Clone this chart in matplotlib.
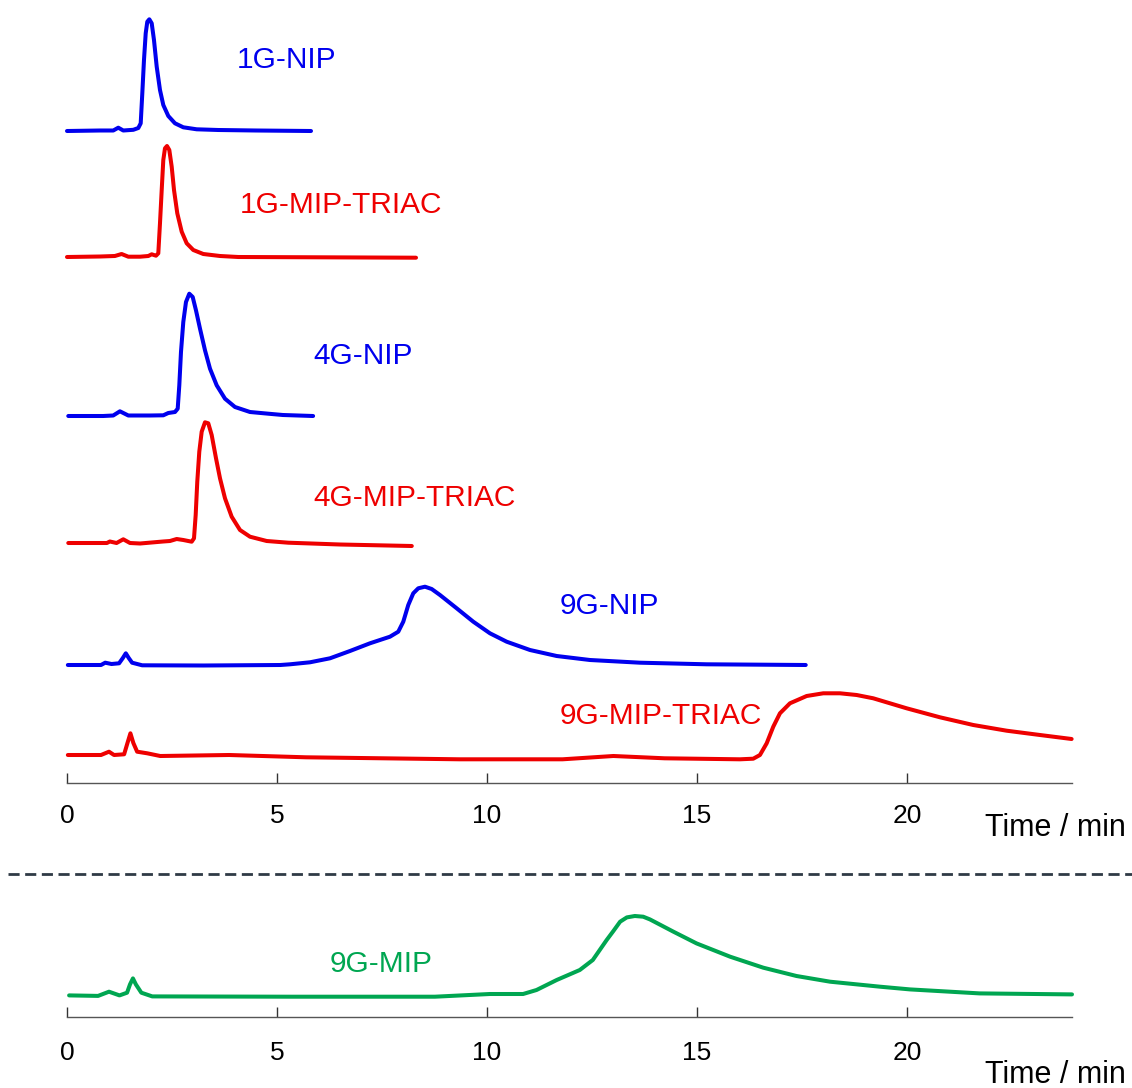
import matplotlib
matplotlib.use("Agg")
import matplotlib.pyplot as plt
import numpy as np

plt.rcParams['font.family'] = ['Liberation Sans', 'DejaVu Sans']

# retention time (min) and detector signal (arb. units)
t_1g_nip = [0, 0.786, 1.102, 1.221, 1.340, 1.579, 1.698, 1.755, 1.793, 1.833, 1.874,
            1.912, 1.960, 2.017, 2.071, 2.136, 2.214, 2.293, 2.412, 2.571, 2.769,
            3.088, 3.602, 4.5, 5.81]
s_1g_nip = [0, 0.5, 0.5, 3.3, 0.5, 1.2, 3, 7.7, 37.7, 71, 97.7,
            109.3, 111.7, 107.7, 91, 64.3, 41, 26, 15, 7.7, 3.7,
            1.7, 1, 0.5, 0]

t_1g_mip = [0, 0.79, 1.14, 1.30, 1.46, 1.738, 1.936, 2.017, 2.119, 2.174, 2.214, 2.255,
            2.293, 2.333, 2.381, 2.436, 2.493, 2.548, 2.626, 2.731, 2.850, 3.007, 3.245,
            3.643, 4.079, 6.0, 8.31]
s_1g_mip = [0, 0.5, 1, 3, 0.3, 0.3, 1, 2.7, 1.3, 3.7, 33.7, 67,
            97, 108.7, 111, 107, 90.3, 67, 43.7, 25.3, 13.7, 7, 3,
            1, 0, -0.3, -0.7]

t_4g_nip = [0.03, 0.86, 1.10, 1.26, 1.46, 1.976, 2.293, 2.412, 2.571, 2.636, 2.674, 2.714,
            2.769, 2.833, 2.912, 2.993, 3.071, 3.167, 3.286, 3.405, 3.564, 3.762, 4.0,
            4.357, 4.793, 5.14, 5.86]
s_4g_nip = [0, 0, 0.5, 4.7, 0.5, 0.5, 0.7, 3, 4, 7.3, 30.7, 64,
            94, 114, 122.3, 119, 105.7, 87.3, 65.7, 47.3, 30.7, 17.3, 9,
            4, 2.3, 1, 0]

t_4g_mip = [0.03, 0.95, 1.02, 1.18, 1.34, 1.50, 1.74, 2.29, 2.452, 2.612, 2.769, 2.969,
            3.024, 3.064, 3.102, 3.150, 3.207, 3.286, 3.364, 3.445, 3.548, 3.643, 3.762,
            3.921, 4.119, 4.357, 4.755, 5.269, 6.5, 8.21]
s_4g_mip = [0, 0, 1.5, 0, 3.7, 0, -0.5, 1.5, 2, 4, 3, 1.3,
            4.7, 28, 61.3, 91.3, 111.3, 120.7, 119.7, 108, 84.7, 64.7, 44.7,
            26.3, 13, 6.3, 2, 0.3, -1.5, -3]

t_9g_nip = [0.02, 0.81, 0.91, 1.06, 1.24, 1.33, 1.40, 1.47, 1.55, 1.79, 3.25, 5.08,
            5.310, 5.786, 6.262, 6.738, 7.214, 7.690, 7.888, 8.007, 8.126, 8.245, 8.364,
            8.524, 8.683, 8.881, 9.279, 9.674, 10.071, 10.469, 11.024, 11.660, 12.452,
            13.643, 15.231, 17.59]
s_9g_nip = [0, 0, 2.3, 1, 1.7, 7, 11.7, 7, 2.3, -0.3, -0.5, 0,
            0.7, 2.7, 6.7, 14, 21.7, 28.3, 33.3, 43.3, 60, 71.7, 76.7,
            78.3, 76, 70, 56.7, 43.3, 31.7, 23.3, 15, 9, 5,
            2.3, 0.7, 0]

t_9g_mip_triac = [0.02, 0.81, 1.00, 1.12, 1.36, 1.44, 1.51, 1.58, 1.67, 1.91, 2.22, 3.86,
                  5.69, 9.35, 11.80, 13.01, 14.23, 16.024, 16.340, 16.5, 16.660, 16.817,
                  16.976, 17.214, 17.612, 18.007, 18.405, 18.802, 19.198, 19.993, 20.786,
                  21.579, 22.374, 23.167, 23.921]
s_9g_mip_triac = [0, 0, 3.3, 0, 0.7, 12, 21.7, 12, 3.3, 1.7, -1, 0,
                  -2.3, -4.3, -4.3, -1, -3.3, -4.3, -3.7, 0, 11.7, 28.3,
                  41.7, 51.7, 59, 61.7, 61.7, 60, 56.7, 46.7, 37.7,
                  30, 24.3, 20, 16]

t_9g_mip = [0.05, 0.74, 1.00, 1.25, 1.43, 1.50, 1.57, 1.64, 1.77, 2.03, 5.31, 8.76,
            10.07, 10.86, 11.18, 11.66, 12.21, 12.52, 12.85, 13.01, 13.17, 13.33, 13.52,
            13.72, 13.88, 14.44, 14.99, 15.79, 16.58, 17.37, 18.17, 19.36, 20.07, 21.73,
            23.93]
s_9g_mip = [0, -0.5, 3.7, 0, 2.7, 11, 17, 11, 2.7, -1, -1.3, -1.3,
            1.4, 1.4, 5.4, 15.4, 25.4, 35.4, 55.4, 64.4, 73.7, 78, 79.4,
            78.7, 76, 63.7, 52, 38.7, 27.7, 19.4, 13.7, 8.7, 6, 2,
            1]

top_names = ['1G-NIP', '1G-MIP-TRIAC', '4G-NIP', '4G-MIP-TRIAC', '9G-NIP', '9G-MIP-TRIAC']
top_times = [t_1g_nip, t_1g_mip, t_4g_nip, t_4g_mip, t_9g_nip, t_9g_mip_triac]
top_signals = [s_1g_nip, s_1g_mip, s_4g_nip, s_4g_mip, s_9g_nip, s_9g_mip_triac]
ticks = [0, 5, 10, 15, 20]

# stacking offsets and label anchors (layout)
offsets = [652, 526, 367, 240, 118, 28]
label_xy = [(4.05, 723), (4.12, 578), (5.86, 427), (5.86, 285), (11.74, 177), (11.74, 67)]
blue, red, green = '#0000ee', '#ee0000', '#00a651'
colors = [blue, red, blue, red, blue, red]

W, H = 1132, 1088
fig = plt.figure(figsize=(W / 100, H / 100), dpi=100)


def style_axis(ax, pad):
    for s in ['top', 'left', 'right']:
        ax.spines[s].set_visible(False)
    ax.spines['bottom'].set_color('#555555')
    ax.spines['bottom'].set_linewidth(1.0)
    ax.set_yticks([])
    ax.set_xticks(ticks)
    ax.tick_params(axis='x', direction='in', length=7, width=1, color='#333333',
                   labelsize=19, pad=pad)
    ax.set_xlim(0, 23.93)


ax1 = fig.add_axes([67 / W, (H - 783) / H, (1072 - 67) / W, 778 / H])
style_axis(ax1, 15)
ax1.set_ylim(0, 778)
for t, s, off, c, name, (lx, ly) in zip(top_times, top_signals, offsets, colors,
                                         top_names, label_xy):
    ax1.plot(t, np.array(s) + off, color=c, lw=2.9, solid_capstyle='round',
             solid_joinstyle='round', clip_on=False)
    ax1.text(lx, ly, name, color=c, fontsize=21.5, ha='left', va='center')

ax2 = fig.add_axes([67 / W, (H - 1017) / H, (1072 - 67) / W, 137 / H])
style_axis(ax2, 17)
ax2.set_ylim(0, 137)
ax2.plot(t_9g_mip, np.array(s_9g_mip) + 21.6, color=green, lw=2.9,
         solid_capstyle='round', solid_joinstyle='round', clip_on=False)
ax2.text(6.26, 53, '9G-MIP', color=green, fontsize=21.5, ha='left', va='center')

fig.text(985 / W, 1 - 828 / H, 'Time / min', fontsize=22, ha='left', va='center')
fig.text(985 / W, 1 - 1075 / H, 'Time / min', fontsize=22, ha='left', va='center')

fig.add_artist(plt.Line2D([8 / W, 1.0], [1 - 874 / H, 1 - 874 / H], color='#2f3a45',
                          lw=2, linestyle=(0, (4, 2))))

fig.savefig('out.png', dpi=100)
